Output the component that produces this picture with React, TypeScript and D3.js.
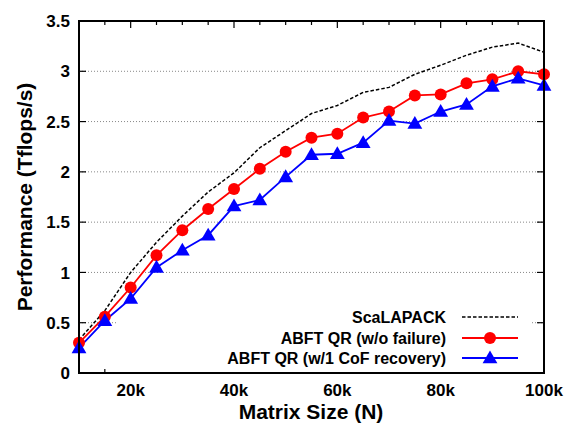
import React, { useRef, useEffect } from 'react';
import * as d3 from 'd3';

// matrix sizes (in thousands)
const sizes = [10, 15, 20, 25, 30, 35, 40, 45, 50, 55, 60, 65, 70, 75, 80, 85, 90, 95, 100];
const scalapack = [0.33, 0.62, 1.0, 1.3, 1.56, 1.8, 1.99, 2.24, 2.41, 2.58, 2.66, 2.79, 2.84, 2.97, 3.06, 3.16, 3.24, 3.28, 3.19];
const abftNoFail = [0.3, 0.56, 0.85, 1.17, 1.42, 1.63, 1.83, 2.03, 2.2, 2.34, 2.38, 2.54, 2.6, 2.76, 2.77, 2.88, 2.92, 3.0, 2.97];
const abftRecover = [0.25, 0.52, 0.74, 1.05, 1.22, 1.37, 1.66, 1.72, 1.95, 2.17, 2.18, 2.29, 2.51, 2.48, 2.6, 2.67, 2.85, 2.93, 2.86];
const yTicks = [0, 0.5, 1, 1.5, 2, 2.5, 3, 3.5];
const xLabelTicks = [20, 40, 60, 80, 100];
const legendNames = ['ScaLAPACK', 'ABFT QR (w/o failure)', 'ABFT QR (w/1 CoF recovery)'];

function App() {
  const svgRef = useRef<SVGSVGElement>(null);

  useEffect(() => {
    const svg = d3.select(svgRef.current);
    svg.selectAll('*').remove();

    const width = 566;
    const height = 427;
    const margin = { top: 21, right: 22, bottom: 54, left: 79 };
    const font = '"Liberation Sans", Arial, sans-serif';

    svg.attr('width', width).attr('height', height);

    const x = d3.scaleLinear().domain([10, 100]).range([margin.left, width - margin.right]);
    const y = d3.scaleLinear().domain([0, 3.5]).range([height - margin.bottom, margin.top]);
    const x0 = x(10), x1 = x(100), y0 = y(0), y1 = y(3.5);

    // grid
    svg.append('g')
      .selectAll('line')
      .data(yTicks.slice(1, -1))
      .enter()
      .append('line')
      .attr('x1', x0).attr('x2', x1)
      .attr('y1', d => y(d)).attr('y2', d => y(d))
      .attr('stroke', '#888')
      .attr('stroke-width', 1)
      .attr('stroke-dasharray', '1,2');

    // minor/major x ticks (bottom and top, inward)
    const xt = d3.range(10, 101, 5);
    const tickG = svg.append('g').attr('stroke', '#000').attr('stroke-width', 1.2);
    xt.forEach(v => {
      const len = v % 20 === 0 ? 7 : 4;
      tickG.append('line').attr('x1', x(v)).attr('x2', x(v)).attr('y1', y0).attr('y2', y0 - len);
      tickG.append('line').attr('x1', x(v)).attr('x2', x(v)).attr('y1', y1).attr('y2', y1 + len);
    });
    yTicks.forEach(v => {
      tickG.append('line').attr('x1', x0).attr('x2', x0 + 7).attr('y1', y(v)).attr('y2', y(v));
      tickG.append('line').attr('x1', x1).attr('x2', x1 - 7).attr('y1', y(v)).attr('y2', y(v));
    });

    // tick labels
    svg.append('g')
      .selectAll('text')
      .data(yTicks)
      .enter()
      .append('text')
      .attr('x', x0 - 9)
      .attr('y', d => y(d))
      .attr('dy', '0.36em')
      .attr('text-anchor', 'end')
      .attr('font-family', font)
      .attr('font-weight', 'bold')
      .attr('font-size', 17)
      .text(d => String(d));

    svg.append('g')
      .selectAll('text')
      .data(xLabelTicks)
      .enter()
      .append('text')
      .attr('x', d => x(d))
      .attr('y', y0 + 23)
      .attr('text-anchor', 'middle')
      .attr('font-family', font)
      .attr('font-weight', 'bold')
      .attr('font-size', 17)
      .text(d => `${d}k`);

    // axis titles
    svg.append('text')
      .attr('x', 311)
      .attr('y', 419)
      .attr('text-anchor', 'middle')
      .attr('font-family', font)
      .attr('font-weight', 'bold')
      .attr('font-size', 21)
      .text('Matrix Size (N)');
    svg.append('text')
      .attr('transform', `translate(32, 197) rotate(-90)`)
      .attr('text-anchor', 'middle')
      .attr('font-family', font)
      .attr('font-weight', 'bold')
      .attr('font-size', 21)
      .text('Performance (Tflops/s)');

    // legend background (opaque key)
    const legX = 446;
    const legRows = [317, 338, 358];
    svg.append('rect')
      .attr('x', 117).attr('y', 303)
      .attr('width', 531 - 117).attr('height', y0 - 303 - 1)
      .attr('fill', '#fff');

    const line = d3.line<number>()
      .x((_, i) => x(sizes[i]))
      .y(d => y(d));

    svg.append('path')
      .datum(scalapack)
      .attr('d', line)
      .attr('fill', 'none')
      .attr('stroke', '#000')
      .attr('stroke-width', 1.5)
      .attr('stroke-dasharray', '3.5,2');

    svg.append('path')
      .datum(abftNoFail)
      .attr('d', line)
      .attr('fill', 'none')
      .attr('stroke', '#ff0000')
      .attr('stroke-width', 1.8);

    svg.append('path')
      .datum(abftRecover)
      .attr('d', line)
      .attr('fill', 'none')
      .attr('stroke', '#0000ff')
      .attr('stroke-width', 1.8);

    const tri = d3.symbol().type(d3.symbolTriangle).size(95);

    svg.append('g')
      .selectAll('circle')
      .data(abftNoFail)
      .enter()
      .append('circle')
      .attr('cx', (_, i) => x(sizes[i]))
      .attr('cy', d => y(d))
      .attr('r', 6)
      .attr('fill', '#ff0000');

    svg.append('g')
      .selectAll('path')
      .data(abftRecover)
      .enter()
      .append('path')
      .attr('d', tri)
      .attr('transform', (d, i) => `translate(${x(sizes[i])}, ${y(d) + 1})`)
      .attr('fill', '#0000ff');

    // legend entries
    const colors = ['#000', '#ff0000', '#0000ff'];
    legendNames.forEach((name, i) => {
      const ly = legRows[i];
      svg.append('text')
        .attr('x', legX)
        .attr('y', ly)
        .attr('dy', '0.36em')
        .attr('text-anchor', 'end')
        .attr('font-family', font)
        .attr('font-weight', 'bold')
        .attr('font-size', 16)
        .text(name);
      svg.append('line')
        .attr('x1', 462).attr('x2', 518)
        .attr('y1', ly).attr('y2', ly)
        .attr('stroke', colors[i])
        .attr('stroke-width', i === 0 ? 1.5 : 1.8)
        .attr('stroke-dasharray', i === 0 ? '3.5,2' : null);
    });
    svg.append('circle').attr('cx', 490).attr('cy', legRows[1]).attr('r', 6).attr('fill', '#ff0000');
    svg.append('path').attr('d', tri).attr('transform', `translate(490, ${legRows[2] + 1})`).attr('fill', '#0000ff');

    // frame
    svg.append('rect')
      .attr('x', x0).attr('y', y1)
      .attr('width', x1 - x0).attr('height', y0 - y1)
      .attr('fill', 'none')
      .attr('stroke', '#000')
      .attr('stroke-width', 2);
  }, []);

  return <svg ref={svgRef} style={{ position: 'absolute', left: 0, top: 0 }}></svg>;
}

export default App;
